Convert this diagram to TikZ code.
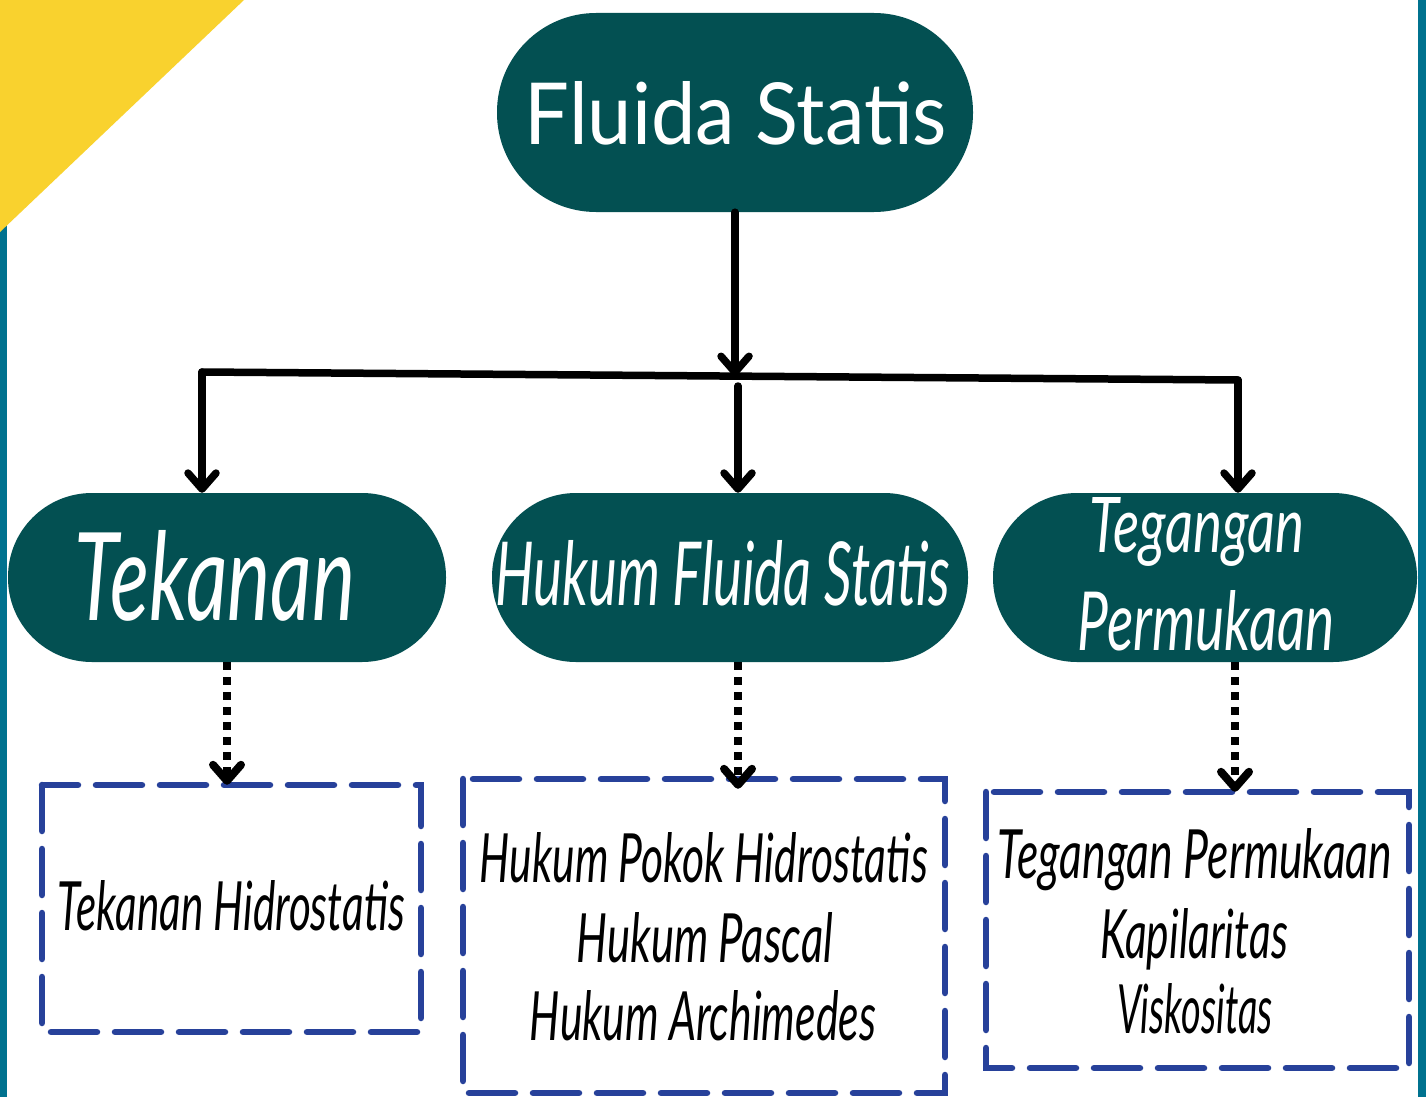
\documentclass[tikz,border=0pt]{standalone}
\usepackage{fontspec}
\setmainfont{Lato}
\usepackage{graphicx}
\usetikzlibrary{arrows.meta}
\definecolor{tealbg}{RGB}{3,80,82}
\definecolor{dashblue}{RGB}{39,65,154}
\definecolor{sunny}{RGB}{249,210,46}
\definecolor{stripe}{RGB}{0,114,143}
\newcommand\fitt[3]{\resizebox{#1pt}{#2pt}{#3}}
\begin{document}
\begin{tikzpicture}[x=1pt,y=-1pt,
  pill/.style={fill=tealbg,draw=none,inner sep=0pt,minimum width=#1},
  dbox/.style={draw=dashblue,line width=6.5pt,line cap=round,dash pattern=on 46pt off 18pt,inner sep=0pt},
  lbl/.style={anchor=base,inner sep=0pt,text=white},
  blbl/.style={anchor=base,inner sep=0pt,text=black},
  conn/.style={line width=7.5pt,line cap=round,line join=round},
  tip/.style={-{Straight Barb[length=16pt,width=28pt,line cap=round,line join=round]}},
  dots/.style={line width=8pt,dash pattern=on 8pt off 7pt}
]
\useasboundingbox (0,0) rectangle (1426,1097);
\fill[white] (0,0) rectangle (1426,1097);
\fill[stripe] (0,200) rectangle (7,1097);
\fill[stripe] (1418,0) rectangle (1426,1097);
\fill[sunny] (0,0) -- (244,0) -- (0,232) -- cycle;

% pills
\node[pill=476pt,minimum height=199pt,rounded corners=99pt] (fs) at (735,112.5) {};
\node[pill=438pt,minimum height=169pt,rounded corners=84pt] (tek) at (227,577.5) {};
\node[pill=476pt,minimum height=169pt,rounded corners=84pt] (hfs) at (730,577.5) {};
\node[pill=424pt,minimum height=169pt,rounded corners=84pt] (tp) at (1205,577.5) {};

\node[lbl] (fst) at (736,145) {\fitt{422}{63}{Fluida Statis}};
\node[lbl] (tekt) at (215,620) {\fitt{280}{90}{\itshape Tekanan}};
\node[lbl] (hfst) at (723,605) {\fitt{455}{65}{\itshape Hukum Fluida Statis}};
\node[lbl] (tpt1) at (1197,552) {\fitt{215}{55}{\itshape Tegangan}};
\node[lbl] (tpt2) at (1206,650) {\fitt{257}{60}{\itshape Permukaan}};

% dashed boxes
\draw[dbox] (42,785) rectangle (421,1032);
\node[minimum width=379pt,minimum height=247pt,inner sep=0pt] (b1) at (231.5,908.5) {};
\draw[dbox] (463,779) rectangle (945,1093);
\node[minimum width=482pt,minimum height=314pt,inner sep=0pt] (b2) at (704,936) {};
\draw[dbox] (986,792) rectangle (1409,1068);
\node[minimum width=423pt,minimum height=276pt,inner sep=0pt] (b3) at (1197.5,930) {};

\node[blbl] (t1) at (231.5,930) {\fitt{347}{50}{\itshape Tekanan Hidrostatis}};
\node[blbl] (t2a) at (704,882) {\fitt{448}{50}{\itshape Hukum Pokok Hidrostatis}};
\node[blbl] (t2b) at (705,962) {\fitt{256}{50}{\itshape Hukum Pascal}};
\node[blbl] (t2c) at (703,1040) {\fitt{346}{50}{\itshape Hukum Archimedes}};
\node[blbl] (t3a) at (1195,878) {\fitt{394}{50}{\itshape Tegangan Permukaan}};
\node[blbl] (t3b) at (1194,958) {\fitt{188}{50}{\itshape Kapilaritas}};
\node[blbl] (t3c) at (1195,1033) {\fitt{156}{50}{\itshape Viskositas}};

% connectors
\coordinate (jl) at (202,372);
\coordinate (jm) at (735,376);
\coordinate (jr) at (1238,380);
\coordinate (jm2) at (738,386);
\draw[conn] (jl) -- (jr);
\draw[conn,tip] (fs.south) -- (jm);
\draw[conn,tip] (jl) -- (jl |- tek.north);
\draw[conn,tip] (jm2) -- (jm2 |- hfs.north);
\draw[conn,tip] (jr) -- (jr |- tp.north);

\coordinate (d1) at (227,662);
\coordinate (d2) at (738,662);
\coordinate (d3) at (1235,662);
\draw[dots,tip] (d1) -- (d1 |- b1.north);
\draw[dots,tip] (d2) -- ([yshift=-10pt]d2 |- b2.north);
\draw[dots,tip] (d3) -- (d3 |- b3.north);
\end{tikzpicture}
\end{document}
